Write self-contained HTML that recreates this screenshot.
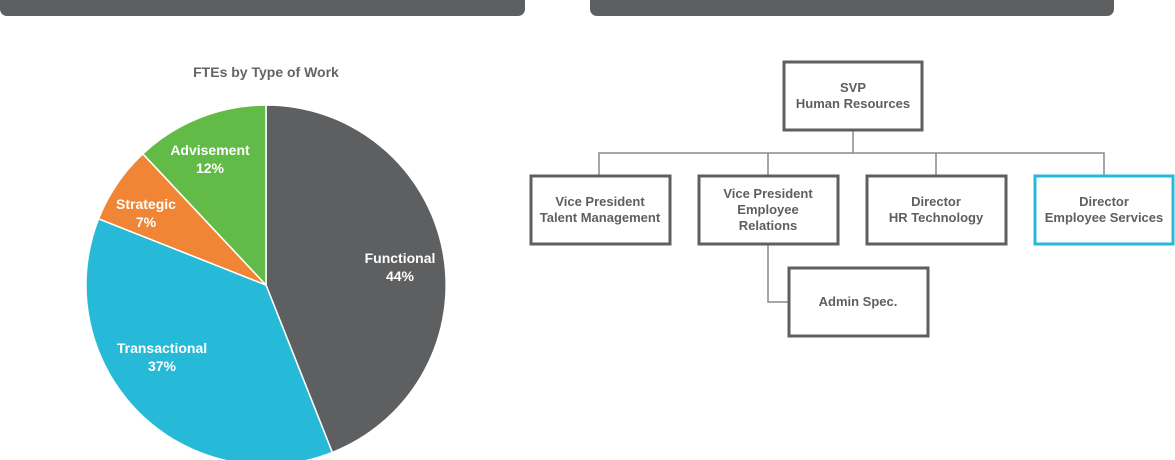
<!DOCTYPE html>
<html><head><meta charset="utf-8"><style>
html,body{margin:0;padding:0;background:#fff;width:1175px;height:460px;overflow:hidden}
svg text{font-family:"Liberation Sans",sans-serif;font-weight:bold}
</style></head><body>
<svg width="1175" height="460" xmlns="http://www.w3.org/2000/svg">
<rect x="0" y="-10" width="525" height="26" rx="7" fill="#5e5f61"/>
<rect x="590" y="-10" width="524" height="26" rx="7" fill="#5e5f61"/>
<text x="266" y="77" text-anchor="middle" font-size="14" fill="#636466">FTEs by Type of Work</text>
<g stroke="#fff" stroke-width="1.5">
<path d="M266,285 L266,105 A180,180 0 0 1 332.3,452.4 Z" fill="#5e5f61"/>
<path d="M266,285 L332.3,452.4 A180,180 0 0 1 98.6,218.8 Z" fill="#27b9d8"/>
<path d="M266,285 L98.6,218.8 A180,180 0 0 1 142.8,153.8 Z" fill="#f08535"/>
<path d="M266,285 L142.8,153.8 A180,180 0 0 1 266,105 Z" fill="#63bb47"/>
</g>
<g fill="#fff" font-size="14" text-anchor="middle">
<text x="400" y="263">Functional</text><text x="400" y="281">44%</text>
<text x="162" y="353">Transactional</text><text x="162" y="371">37%</text>
<text x="146" y="209">Strategic</text><text x="146" y="227">7%</text>
<text x="210" y="155">Advisement</text><text x="210" y="173">12%</text>
</g>
<g stroke="#8a8a8a" stroke-width="1.5" fill="none">
<path d="M853,130 V153 M599,175 V153 H1104 V175 M768,153 V175 M936,153 V175 M768,244 V302 H788"/>
</g>
<g stroke="#5e5f61" stroke-width="3" fill="#fff">
<rect x="784" y="62" width="138" height="68"/>
<rect x="531" y="176" width="139" height="68"/>
<rect x="699" y="176" width="139" height="68"/>
<rect x="867" y="176" width="139" height="68"/>
<rect x="1035" y="176" width="138" height="68" stroke="#27b9d8"/>
<rect x="789" y="268" width="139" height="68"/>
</g>
<g fill="#5e5f61" font-size="13" text-anchor="middle">
<text x="853" y="92">SVP</text><text x="853" y="108">Human Resources</text>
<text x="600" y="206">Vice President</text><text x="600" y="222">Talent Management</text>
<text x="768" y="198">Vice President</text><text x="768" y="214">Employee</text><text x="768" y="230">Relations</text>
<text x="936" y="206">Director</text><text x="936" y="222">HR Technology</text>
<text x="1104" y="206">Director</text><text x="1104" y="222">Employee Services</text>
<text x="858" y="306">Admin Spec.</text>
</g>
</svg>
</body></html>
